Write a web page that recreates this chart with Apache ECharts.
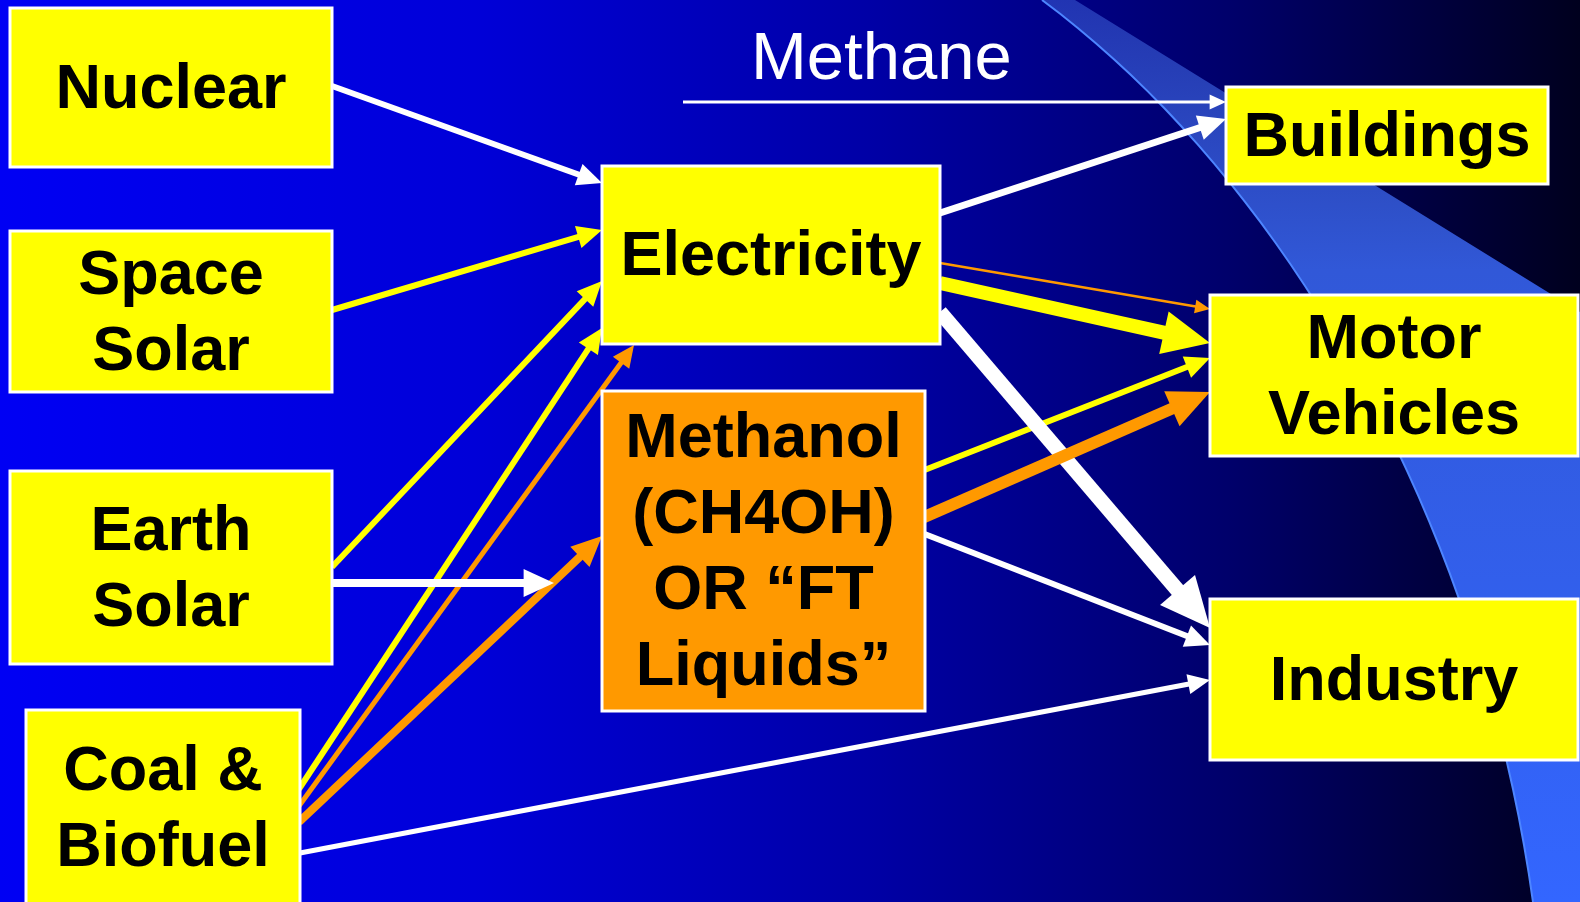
<!DOCTYPE html>
<html>
<head>
<meta charset="utf-8">
<script src="https://cdn.jsdelivr.net/npm/echarts@6/dist/echarts.min.js"></script>
<style>
  html, body { margin: 0; padding: 0; background: #0000c0; }
  #chart { width: 1580px; height: 902px; }
</style>
</head>
<body>
<div id="chart"></div>
<script>
// boxes of the energy flow diagram (axis units = slide pixels)
var nodeNames  = ['Nuclear', 'Space Solar', 'Earth Solar', 'Coal & Biofuel', 'Electricity', 'Methanol', 'Buildings', 'Motor Vehicles', 'Industry'];
var nodeLabels = ['Nuclear', 'Space\nSolar', 'Earth\nSolar', 'Coal &\nBiofuel', 'Electricity', 'Methanol\n(CH4OH)\nOR \u201cFT\nLiquids\u201d', 'Buildings', 'Motor\nVehicles', 'Industry'];
var nodeKind   = ['source', 'source', 'source', 'source', 'carrier', 'fuel', 'use', 'use', 'use'];
var nodeLeft   = [10, 10, 10, 26, 602, 602, 1226, 1210, 1210];
var nodeTop    = [8, 231, 471, 710, 166, 391, 87, 295, 599];
var nodeRight  = [332, 332, 332, 300, 940, 925, 1548, 1578, 1578];
var nodeBottom = [167, 392, 664, 905, 344, 711, 184, 456, 760];

// flows (arrows): from, to, start point, tip point, kind, weight
var flowFrom   = ['Nuclear', 'Space Solar', 'Earth Solar', 'Coal & Biofuel', 'Coal & Biofuel', 'Coal & Biofuel', 'Earth Solar', 'Coal & Biofuel',
                  'Methane', 'Electricity', 'Electricity', 'Electricity', 'Methanol', 'Electricity', 'Methanol', 'Methanol'];
var flowTo     = ['Electricity', 'Electricity', 'Electricity', 'Electricity', 'Electricity', 'Methanol', 'Methanol', 'Industry',
                  'Buildings', 'Buildings', 'Motor Vehicles', 'Motor Vehicles', 'Motor Vehicles', 'Industry', 'Motor Vehicles', 'Industry'];
var flowStart  = [[332, 86], [332, 310], [332, 567], [299, 789], [299, 806], [299, 822], [332, 583], [300, 853],
                  [683, 102], [940, 213], [940, 263], [940, 283], [922, 471], [940, 312], [922, 518], [922, 533]];
var flowEnd    = [[602, 183], [602, 230], [602, 281], [602, 328], [634, 345], [602, 536], [554, 583], [1210, 680],
                  [1226, 102], [1226, 119], [1210, 309], [1210, 343], [1210, 358], [1210, 628], [1210, 392], [1210, 645]];
var flowKind   = ['white', 'yellow', 'yellow', 'yellow', 'orange', 'orange', 'white', 'white',
                  'white', 'white', 'orange', 'yellow', 'yellow', 'white', 'orange', 'white'];
var flowWeight = [6, 6, 6, 6, 5, 8, 8, 5, 3, 7, 2.5, 14, 6, 15, 12, 6];
var flowLabel  = ['', '', '', '', '', '', '', '', 'Methane', '', '', '', '', '', '', ''];

var boxFill = { source: '#ffff00', carrier: '#ffff00', use: '#ffff00', fuel: '#ff9900' };
var flowColor = { white: '#ffffff', yellow: '#ffff00', orange: '#ff9900' };
var FONT = '"Liberation Sans", Arial, Helvetica, sans-serif';

var chart = echarts.init(document.getElementById('chart'));

function renderBox(params, api) {
  var i = params.dataIndex;
  var p0 = api.coord([api.value(0), api.value(1)]);
  var p1 = api.coord([api.value(2), api.value(3)]);
  var x = Math.min(p0[0], p1[0]), y = Math.min(p0[1], p1[1]);
  var w = Math.abs(p1[0] - p0[0]), h = Math.abs(p1[1] - p0[1]);
  return {
    type: 'group',
    children: [
      { type: 'rect', shape: { x: x, y: y, width: w, height: h },
        style: { fill: boxFill[nodeKind[i]], stroke: '#ffffff', lineWidth: 3 } },
      { type: 'text', x: x + w / 2, y: y + h / 2 + 3,
        style: { text: nodeLabels[i], x: 0, y: 0, align: 'center', verticalAlign: 'middle',
                 fontFamily: FONT, fontWeight: 'bold', fontSize: 63, lineHeight: 76, fill: '#000000' } }
    ]
  };
}

function renderFlow(params, api) {
  var i = params.dataIndex;
  var s = api.coord([api.value(0), api.value(1)]);
  var e = api.coord([api.value(2), api.value(3)]);
  var w = api.value(4);
  var dx = e[0] - s[0], dy = e[1] - s[1];
  var len = Math.sqrt(dx * dx + dy * dy);
  var ux = dx / len, uy = dy / len;
  var hl = 8 + 2.8 * w, hw = hl * 0.92;
  var bx = e[0] - ux * hl, by = e[1] - uy * hl;
  var c = flowColor[flowKind[i]];
  var kids = [
    { type: 'line', shape: { x1: s[0], y1: s[1], x2: bx + ux * 2, y2: by + uy * 2 },
      style: { stroke: c, lineWidth: w, lineCap: 'butt' } },
    { type: 'polygon', shape: { points: [[e[0], e[1]], [bx - uy * hw / 2, by + ux * hw / 2], [bx + uy * hw / 2, by - ux * hw / 2]] },
      style: { fill: c } }
  ];
  if (flowLabel[i]) {
    kids.push({ type: 'text', x: s[0] + 68, y: s[1] - 8,
      style: { text: flowLabel[i], align: 'left', verticalAlign: 'bottom', fontFamily: FONT,
               fontSize: 67, fill: '#ffffff' } });
  }
  return { type: 'group', children: kids };
}

var flowData = flowStart.map(function (p, i) {
  return [p[0], p[1], flowEnd[i][0], flowEnd[i][1], flowWeight[i]];
});
var boxData = nodeNames.map(function (n, i) {
  return { name: n, value: [nodeLeft[i], nodeTop[i], nodeRight[i], nodeBottom[i]] };
});

// decorative swoosh on the slide background (cubic curve sampled)
function swooshEdge() {
  var p0 = [1042, 0], p1 = [1285, 180], p2 = [1480, 520], p3 = [1533, 902];
  var pts = [];
  for (var k = 0; k <= 40; k++) {
    var t = k / 40, a = (1 - t) * (1 - t) * (1 - t), b = 3 * (1 - t) * (1 - t) * t, c = 3 * (1 - t) * t * t, d = t * t * t;
    pts.push([a * p0[0] + b * p1[0] + c * p2[0] + d * p3[0], a * p0[1] + b * p1[1] + c * p2[1] + d * p3[1]]);
  }
  return pts;
}
var edge = swooshEdge();
var band = edge.concat([[1580, 902], [1580, 312], [1075, 0]]);

chart.setOption({
  backgroundColor: {
    type: 'linear', x: 0, y: 0, x2: 1, y2: 0,
    colorStops: [
      { offset: 0, color: '#0000f4' },
      { offset: 0.3, color: '#0000d8' },
      { offset: 0.55, color: '#0000a6' },
      { offset: 0.78, color: '#00006a' },
      { offset: 1, color: '#00001e' }
    ]
  },
  animation: false,
  grid: { left: 0, right: 0, top: 0, bottom: 0 },
  xAxis: { type: 'value', min: 0, max: 1580, show: false },
  yAxis: { type: 'value', min: 0, max: 902, inverse: true, show: false },
  graphic: [
    { type: 'polygon', z: 0,
      shape: { points: band },
      style: { fill: { type: 'linear', x: 0, y: 0, x2: 0, y2: 1,
        colorStops: [{ offset: 0, color: 'rgba(60,95,215,0.55)' }, { offset: 0.3, color: '#3158d8' }, { offset: 1, color: '#3366ff' }] } } },
    { type: 'polyline', z: 1,
      shape: { points: edge },
      style: { fill: null, stroke: '#4d85ff', lineWidth: 2 } }
  ],
  series: [
    { type: 'custom', name: 'flows', renderItem: renderFlow, data: flowData,
      encode: { x: [0, 2], y: [1, 3] }, z: 2 },
    { type: 'custom', name: 'boxes', renderItem: renderBox, data: boxData,
      encode: { x: [0, 2], y: [1, 3] }, z: 3 }
  ]
});
</script>
</body>
</html>
